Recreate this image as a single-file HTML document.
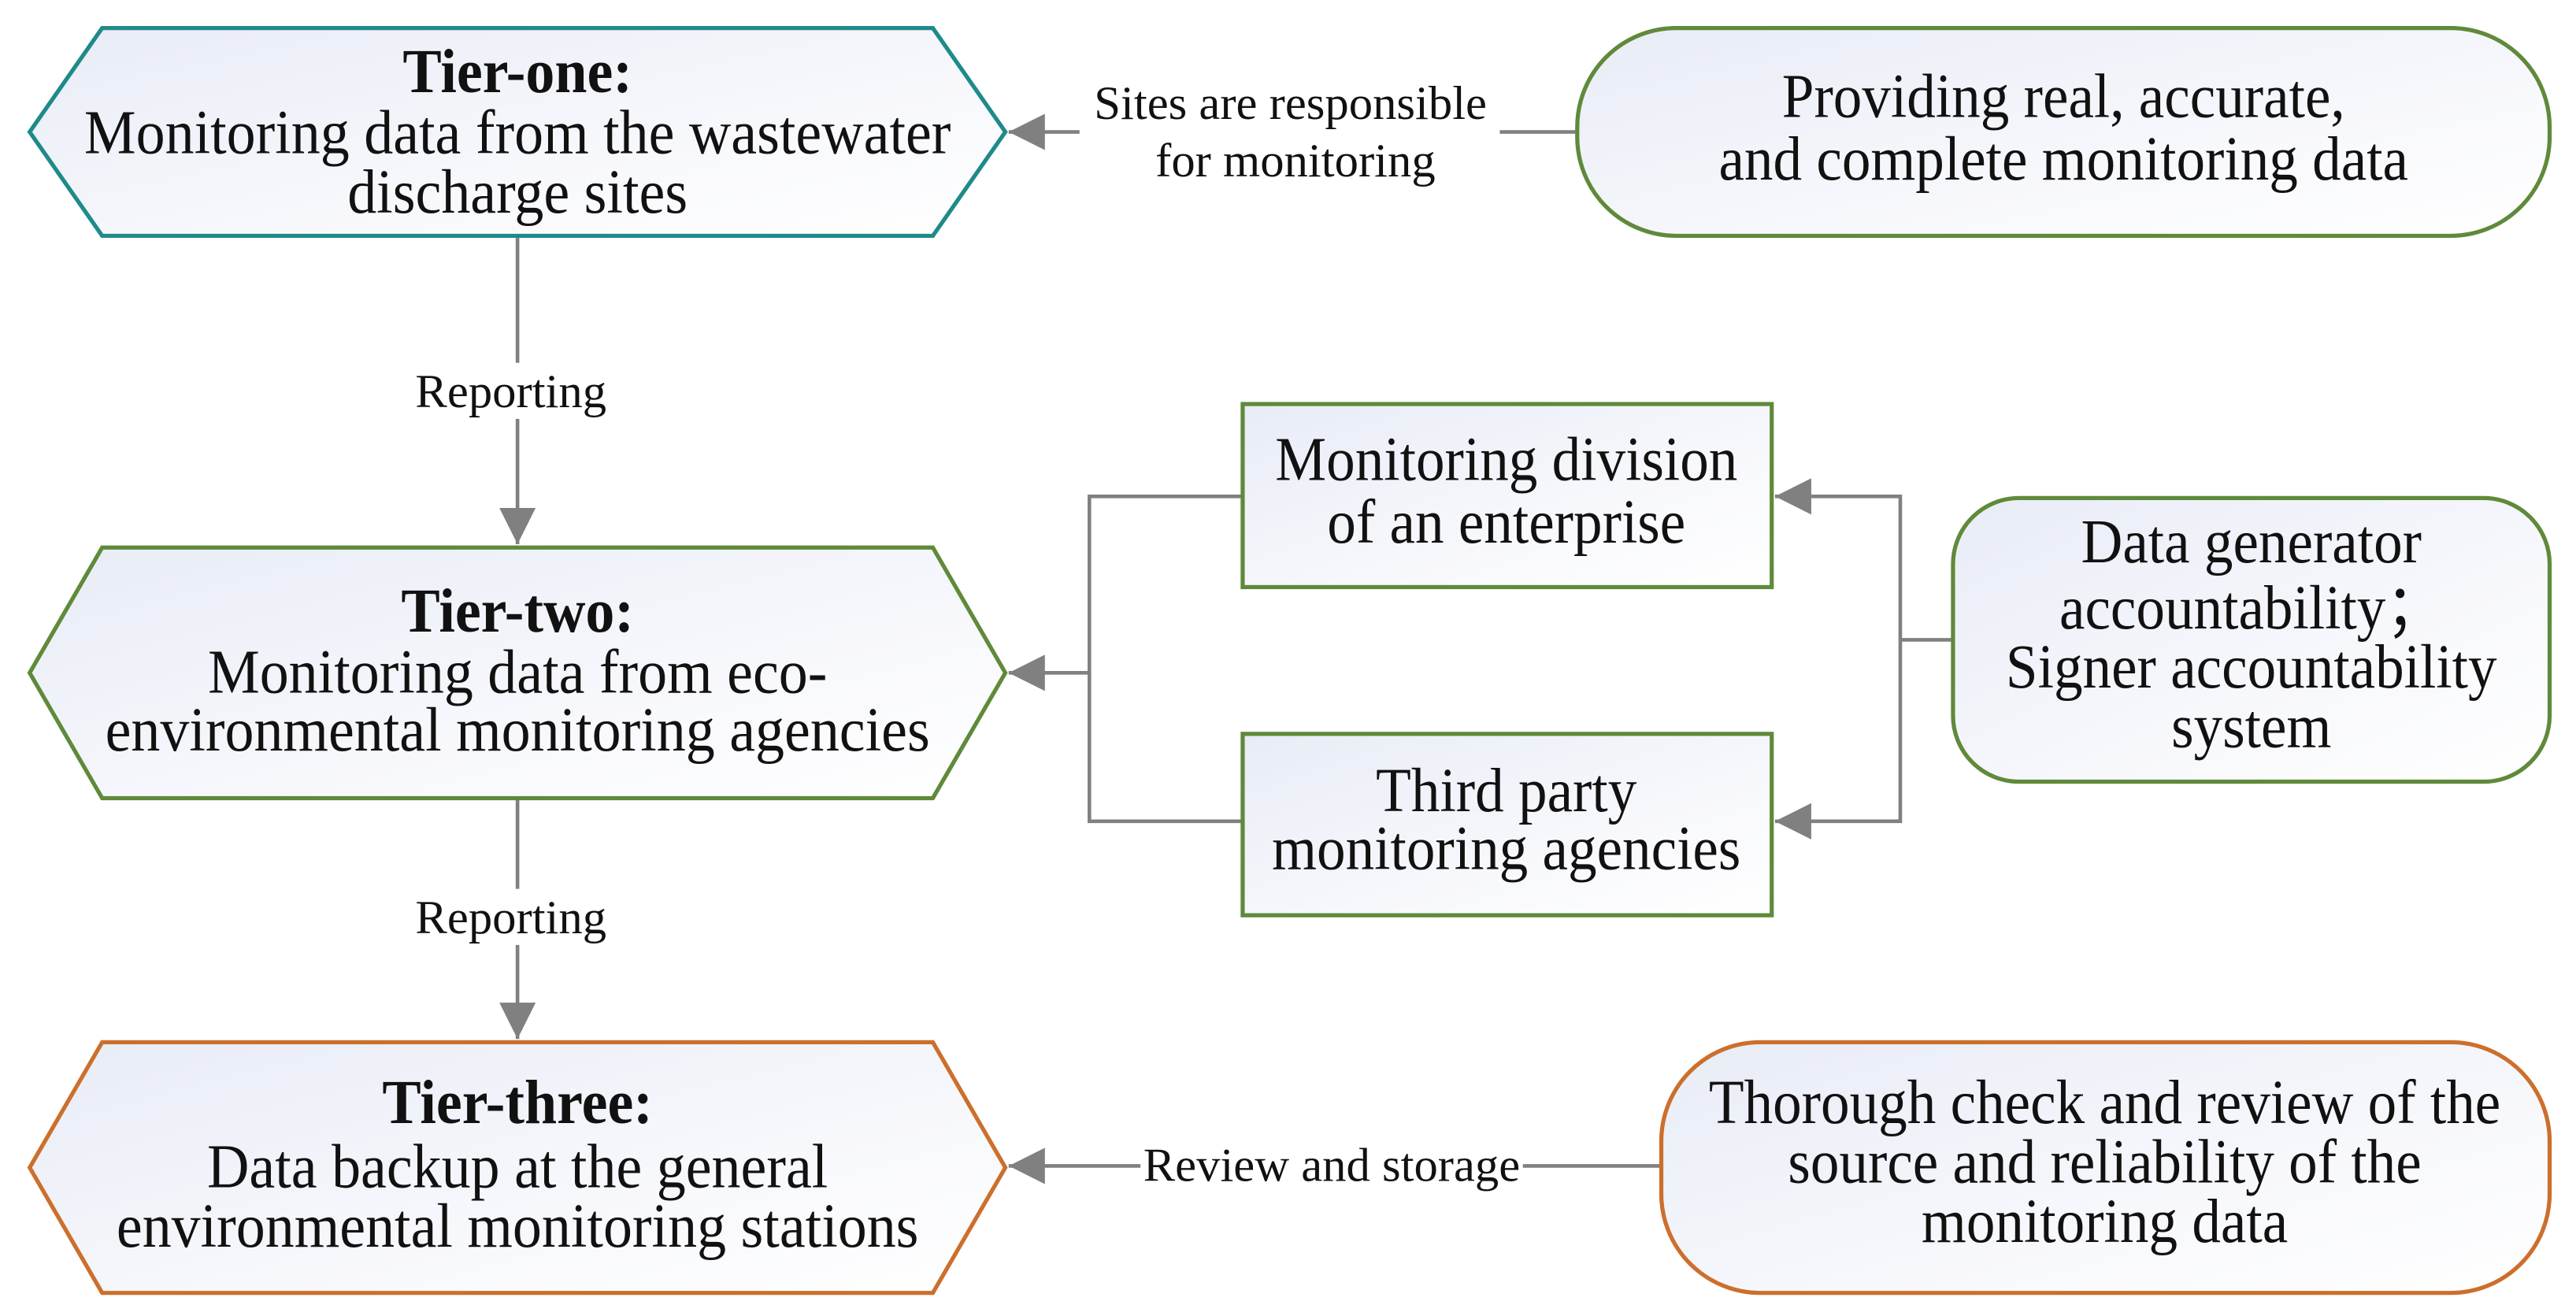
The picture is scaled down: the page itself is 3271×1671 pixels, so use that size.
<!DOCTYPE html>
<html><head><meta charset="utf-8"><style>
html,body{margin:0;padding:0;background:#fff;}
svg{display:block;}
text{font-family:"Liberation Serif",serif;fill:#111;}
.m{font-size:38px;text-anchor:middle;}
.b{font-size:38px;font-weight:bold;text-anchor:middle;}
.l{font-size:29px;text-anchor:middle;}
</style></head><body>
<svg width="3271" height="1671" viewBox="0 0 1563 798" preserveAspectRatio="none" xmlns="http://www.w3.org/2000/svg">
<defs>
<linearGradient id="g" x1="0" y1="0" x2="1" y2="1">
<stop offset="0" stop-color="#e8ecf6"/><stop offset="0.6" stop-color="#f7f8fc"/><stop offset="1" stop-color="#ffffff"/>
</linearGradient>
<marker id="A" viewBox="0 0 20 20" markerWidth="22" markerHeight="22" refX="20" refY="10" orient="auto-start-reverse" markerUnits="userSpaceOnUse">
<path d="M0,0 L20,10 L0,20 Z" fill="#808080"/>
</marker>
</defs>

<g stroke="#808080" stroke-width="2.2" fill="none">
<line x1="314" y1="143" x2="314" y2="330" marker-end="url(#A)"/>
<line x1="314" y1="484" x2="314" y2="630" marker-end="url(#A)"/>
<line x1="957" y1="80" x2="612" y2="80" marker-end="url(#A)"/>
<line x1="1008" y1="707" x2="612" y2="707" marker-end="url(#A)"/>
<polyline points="754,301 661,301 661,498 754,498"/>
<line x1="661" y1="408" x2="612" y2="408" marker-end="url(#A)"/>
<polyline points="1077,301 1153,301 1153,498 1077,498" marker-start="url(#A)" marker-end="url(#A)"/>
<line x1="1153" y1="388" x2="1185" y2="388"/>
</g>
<rect x="655" y="44" width="255" height="72" fill="#fff"/>
<rect x="246" y="220" width="128" height="34" fill="#fff"/>
<rect x="246" y="539" width="128" height="34" fill="#fff"/>
<rect x="692" y="690" width="232" height="34" fill="#fff"/>
<text class="l" x="783" y="72">Sites are responsible</text>
<text class="l" x="786" y="107">for monitoring</text>
<text class="l" x="310" y="247">Reporting</text>
<text class="l" x="310" y="566">Reporting</text>
<text class="l" x="808" y="716">Review and storage</text>

<polygon points="18,80 62,17 566,17 610,80 566,143 62,143" fill="url(#g)" stroke="#1f8a8a" stroke-width="2.5"/>
<g transform="matrix(0.93,0,0,1,22,0)">
<text class="b" x="314" y="56">Tier-one:</text>
<text class="m" x="314" y="93">Monitoring data from the wastewater</text>
<text class="m" x="314" y="129">discharge sites</text>
</g>
<polygon points="18,408 62,332 566,332 610,408 566,484 62,484" fill="url(#g)" stroke="#5f8a3a" stroke-width="2.5"/>
<g transform="matrix(0.93,0,0,1,22,0)">
<text class="b" x="314" y="383">Tier-two:</text>
<text class="m" x="314" y="420">Monitoring data from eco-</text>
<text class="m" x="314" y="455">environmental monitoring agencies</text>
</g>
<polygon points="18,708 62,632 566,632 610,708 566,784 62,784" fill="url(#g)" stroke="#cc6f2c" stroke-width="2.5"/>
<g transform="matrix(0.93,0,0,1,22,0)">
<text class="b" x="314" y="681">Tier-three:</text>
<text class="m" x="314" y="720">Data backup at the general</text>
<text class="m" x="314" y="756">environmental monitoring stations</text>
</g>

<rect x="957" y="17" width="590" height="126" rx="60" ry="60" fill="url(#g)" stroke="#5f8a3a" stroke-width="2.5"/>
<g transform="matrix(0.92,0,0,1,100.2,0)">
<text class="m" x="1252" y="71">Providing real, accurate,</text>
<text class="m" x="1252" y="109">and complete monitoring data</text>
</g>

<rect x="754" y="245" width="321" height="111" fill="url(#g)" stroke="#5f8a3a" stroke-width="2.5"/>
<g transform="matrix(0.92,0,0,1,73.1,0)">
<text class="m" x="914" y="291">Monitoring division</text>
<text class="m" x="914" y="329">of an enterprise</text>
</g>
<rect x="754" y="445" width="321" height="110" fill="url(#g)" stroke="#5f8a3a" stroke-width="2.5"/>
<g transform="matrix(0.92,0,0,1,73.1,0)">
<text class="m" x="914" y="492">Third party</text>
<text class="m" x="914" y="527">monitoring agencies</text>
</g>

<rect x="1185" y="302" width="362" height="172" rx="40" ry="40" fill="url(#g)" stroke="#5f8a3a" stroke-width="2.5"/>
<g transform="matrix(0.92,0,0,1,109.3,0)">
<text class="m" x="1366" y="341">Data generator</text>
<text class="m" x="1366" y="381">accountability；</text>
<text class="m" x="1366" y="417">Signer accountability</text>
<text class="m" x="1366" y="453">system</text>
</g>

<rect x="1008" y="632" width="539" height="152" rx="60" ry="60" fill="url(#g)" stroke="#cc6f2c" stroke-width="2.5"/>
<g transform="matrix(0.92,0,0,1,102.2,0)">
<text class="m" x="1277" y="681">Thorough check and review of the</text>
<text class="m" x="1277" y="717">source and reliability of the</text>
<text class="m" x="1277" y="753">monitoring data</text>
</g>
</svg>
</body></html>
